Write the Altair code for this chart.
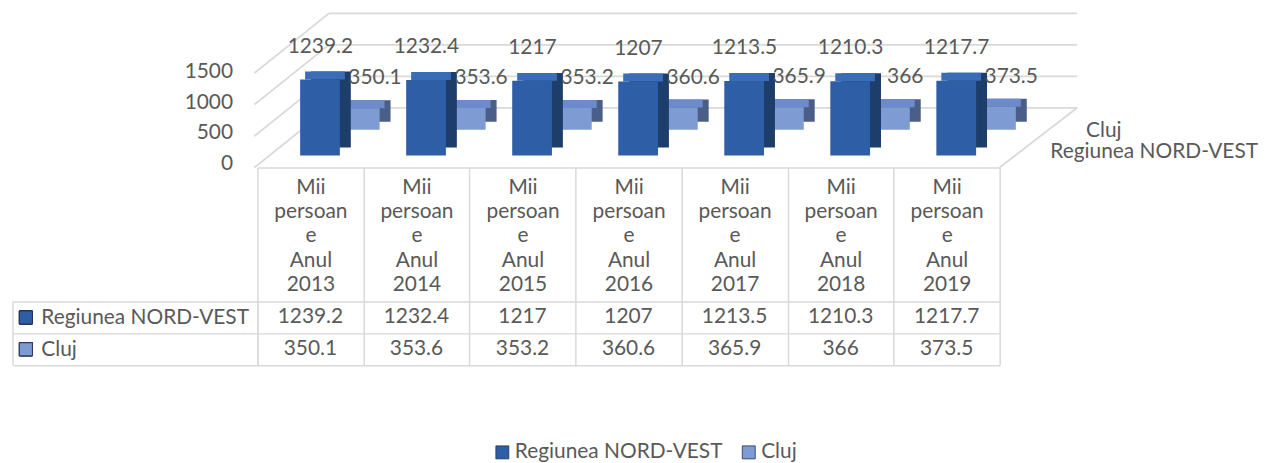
import altair as alt
import pandas as pd

# ---- data ----
years = ["Anul 2013", "Anul 2014", "Anul 2015", "Anul 2016", "Anul 2017", "Anul 2018", "Anul 2019"]
unit_lines = ["Mii", "persoan", "e"]          # "Mii persoane", wrapped as in the reference
series = ["Regiunea NORD-VEST", "Cluj"]
nord_vest = [1239.2, 1232.4, 1217, 1207, 1213.5, 1210.3, 1217.7]
cluj = [350.1, 353.6, 353.2, 360.6, 365.9, 366, 373.5]
y_ticks = [0, 500, 1000, 1500]

rows = []
for i, y in enumerate(years):
    rows.append({"year": y, "series": series[0], "value": nord_vest[i]})
    rows.append({"year": y, "series": series[1], "value": cluj[i]})
df = pd.DataFrame(rows)
ticks_df = pd.DataFrame({"v": y_ticks})
series_df = pd.DataFrame({"series": series})

FONT = "Lato"
TXT = "#595959"
LINE = "#d9d9d9"
C_NV = {"front": "#2e5fa6", "side": "#1d3d6b", "top": "#3b6cb6"}
C_CJ = {"front": "#7e9bd4", "side": "#4b5e87", "top": "#6d8bcb"}

W, H = 747, 142
FS = 21

label_expr = "datum.label ? [" + ",".join("'" + s + "'" for s in unit_lines) + \
    ", split(datum.label, ' ')[0], split(datum.label, ' ')[1]] : ''"

x_enc = alt.X(
    "year:N", sort=years,
    scale=alt.Scale(paddingInner=0, paddingOuter=0),
    axis=alt.Axis(
        title=None, orient="bottom", offset=12, domain=True, domainColor=LINE, domainWidth=1.5,
        ticks=True, tickBand="extent", tickSize=135, tickColor=LINE, tickWidth=1.5,
        labelExpr=label_expr, labelAngle=0, labelBaseline="top", labelPadding=-126,
        labelLineHeight=24.5, labelFontSize=FS, labelColor=TXT, labelFont=FONT, grid=False,
    ),
)

def xo(shift):
    # sub-band placement of the two series inside each year column (pseudo-3D shift)
    return alt.XOffset("series:N", sort=series,
                       scale=alt.Scale(domain=series, range=[43 + shift, 123 + shift],
                                       paddingInner=0, paddingOuter=0))

y_enc = alt.Y(
    "value:Q",
    scale=alt.Scale(domain=[0, 2300], nice=False),
    axis=alt.Axis(title=None, orient="left", values=y_ticks, format="d", domain=False, ticks=False,
                  grid=False, labelPadding=25, labelOffset=8, labelFontSize=FS, labelColor=TXT,
                  labelFont=FONT),
)

base = alt.Chart(df).encode(x=x_enc)

def bar_layers(name, col, lift):
    src = base.transform_filter(alt.datum.series == name)
    side = src.mark_bar(color=col["side"], yOffset=-8 - lift, y2Offset=-8 - lift).encode(
        xOffset=xo(11), y=y_enc, y2=alt.datum(0))
    top = src.mark_bar(color=col["top"], yOffset=-8 - lift, y2Offset=-lift).encode(
        xOffset=xo(5), y=y_enc, y2=alt.Y2("value:Q"))
    front = src.mark_bar(color=col["front"], yOffset=-lift, y2Offset=-lift).encode(
        xOffset=xo(0), y=y_enc, y2=alt.datum(0))
    return [side, top, front]

cj_layers = bar_layers(series[1], C_CJ, 26)
nv_layers = bar_layers(series[0], C_NV, 0)

nv_text = base.transform_filter(alt.datum.series == series[0]).mark_text(
    dx=10, dy=-27, baseline="alphabetic", fontSize=FS, color=TXT, font=FONT
).encode(y=y_enc, text=alt.Text("value:Q", format=".1~f"))
cj_text = base.transform_filter(alt.datum.series == series[1]).mark_text(
    dx=65, dy=-50, baseline="alphabetic", fontSize=FS, color=TXT, font=FONT
).encode(y=y_enc, text=alt.Text("value:Q", format=".1~f"))

bars = alt.layer(*cj_layers, *nv_layers, nv_text, cj_text).resolve_scale(xOffset="independent")

# ---- back wall / floor outline of the 3-D box (same tick values, seen further back) ----
wall_y = alt.Y("v:Q", scale=alt.Scale(domain=[0, 1500], range=[94, -1], nice=False, zero=False),
               axis=None)
wall_back = alt.Chart(ticks_df).mark_rule(color=LINE, strokeWidth=1.8).encode(
    y=wall_y, x=alt.value(72), x2=alt.value(W + 78))
wall_side = alt.Chart(ticks_df).mark_rule(color=LINE, strokeWidth=1.8, y2Offset=60).encode(
    y=wall_y, y2=alt.Y2("v:Q"), x=alt.value(72), x2=alt.value(-3))
floor_right = alt.Chart(ticks_df).transform_filter(alt.datum.v == 0).mark_rule(
    color=LINE, strokeWidth=1.8, y2Offset=60).encode(
    y=wall_y, y2=alt.Y2("v:Q"), x=alt.value(W + 78), x2=alt.value(W))
wall = alt.layer(wall_back, wall_side, floor_right)

# series (depth) axis labels at the right side of the floor
depth_labels = alt.Chart(series_df).mark_text(
    align="left", baseline="middle", fontSize=FS, color=TXT, font=FONT).encode(
    x=alt.X("series:N", scale=alt.Scale(type="point", domain=series, range=[W + 51, W + 87], padding=0),
            axis=None),
    y=alt.Y("series:N", scale=alt.Scale(type="point", domain=series, range=[139, 117], padding=0),
            axis=None),
    text="series:N",
)

top_chart = alt.layer(wall, bars, depth_labels).resolve_scale(y="independent", x="independent").properties(
    width=W, height=H)

# ---- data table below ----
tbase = alt.Chart(df).encode(
    x=alt.X("year:N", sort=years, scale=alt.Scale(paddingInner=0, paddingOuter=0),
            axis=alt.Axis(title=None, orient="bottom", labels=False, ticks=False, domain=False,
                          grid=True, gridColor=LINE, gridWidth=1.5, tickBand="extent")),
    y=alt.Y("series:N", sort=series, scale=alt.Scale(paddingInner=0, paddingOuter=0),
            axis=alt.Axis(title=None, grid=True, gridColor=LINE, gridWidth=1.5, tickBand="extent",
                          ticks=True, tickSize=246, tickColor=LINE, tickWidth=1.5,
                          domain=True, domainColor=LINE, domainWidth=1.5,
                          labelAlign="left", labelPadding=-28, labelFontSize=FS,
                          labelColor=TXT, labelFont=FONT, labelLimit=300)),
)
cells = tbase.mark_text(fontSize=FS, color=TXT, font=FONT).encode(
    text=alt.Text("value:Q", format=".1~f"))
icons = tbase.mark_point(shape="square", filled=True, size=170, stroke="#1f2f4f", strokeWidth=0.8,
                         opacity=1).encode(
    x=alt.value(-233),
    color=alt.Color("series:N", sort=series,
                    scale=alt.Scale(domain=series, range=[C_NV["front"], C_CJ["front"]]),
                    legend=alt.Legend(orient="none", legendX=236, legendY=430, direction="horizontal",
                                      title=None, symbolType="square", symbolSize=170,
                                      symbolStrokeColor="#1f2f4f", symbolStrokeWidth=0.8,
                                      labelFontSize=FS, labelColor=TXT, labelFont=FONT,
                                      columnPadding=15, labelOffset=2, labelLimit=300)),
)
left_border = alt.Chart(pd.DataFrame({"series": series[:1]})).mark_rule(color=LINE, strokeWidth=1.5).encode(
    x=alt.value(-246), y=alt.value(0), y2=alt.value(64))

table = alt.layer(cells, icons, left_border).properties(width=W, height=64)

chart = alt.vconcat(top_chart, table, spacing=147, bounds="flush").properties(
    padding={"left": 4, "top": 3, "right": 0, "bottom": 0}
).configure(font=FONT).configure_view(stroke=None, strokeWidth=0)

chart.save("out.html", embed_options={"renderer": "svg", "actions": False})
